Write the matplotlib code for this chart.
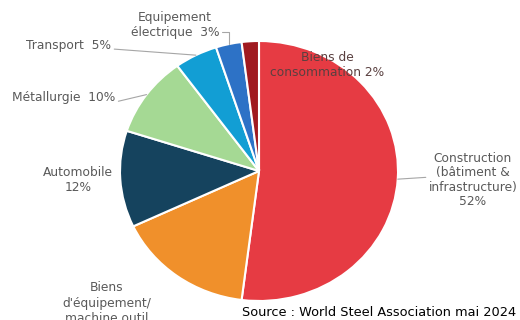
import numpy as np
import matplotlib
matplotlib.use("Agg")
import matplotlib.pyplot as plt

categories = ["Construction\n(bâtiment &\ninfrastructure)\n52%",
              "Biens\nd'équipement/\nmachine outil",
              "Automobile\n12%",
              "Métallurgie  10%",
              "Transport  5%",
              "Equipement\nélectrique  3%",
              "Biens de\nconsommation 2%"]
values = [52, 16, 12, 10, 5, 3, 2]
colors = ["#E63B43", "#F0902B", "#15435E", "#A5D994", "#129ED4", "#2D72C6", "#A01A20"]
source = "Source : World Steel Association mai 2024"

W, H = 520, 320
CX, CY, RX, RY = 259, 171, 139, 130

def px(x, y):
    return ((x - CX) / RX, (CY - y) / RY)

fig = plt.figure(figsize=(W / 100, H / 100), dpi=100)
ax = fig.add_axes([0, 0, 1, 1])
wedges, _ = ax.pie(values, colors=colors, startangle=90, counterclock=False,
                   radius=1.0, wedgeprops=dict(edgecolor="white", linewidth=1.5))
ax.set_aspect("auto")
ax.set_xlim(px(0, 0)[0], px(W, 0)[0])
ax.set_ylim(px(0, H)[1], px(0, 0)[1])
ax.axis("off")

gray = "#595959"
fs = 8.8
lc = "#a6a6a6"

def edge_point(i, r=1.0):
    w = wedges[i]
    a = np.deg2rad((w.theta1 + w.theta2) / 2)
    return (r * np.cos(a), r * np.sin(a))

# Construction
ax.annotate(categories[0], xy=edge_point(0), xytext=px(473, 180), ha="center", va="center",
            fontsize=fs, color=gray, linespacing=1.15,
            arrowprops=dict(arrowstyle="-", color=lc, lw=0.8, shrinkA=0, shrinkB=0,
                            relpos=(0.0, 0.55)))
# Biens d'équipement
ax.text(*px(107, 303), categories[1], ha="center", va="center", fontsize=fs, color=gray,
        linespacing=1.25)
# Automobile
ax.text(*px(78, 180), categories[2], ha="center", va="center", fontsize=fs, color=gray,
        linespacing=1.2)
# Métallurgie
ax.annotate(categories[3], xy=edge_point(3, 1.0), xytext=px(64, 98), ha="center", va="center",
            fontsize=fs, color=gray,
            arrowprops=dict(arrowstyle="-", color=lc, lw=0.8, shrinkA=0, shrinkB=0,
                            relpos=(1.0, 0.2)))
# Transport
ax.annotate(categories[4], xy=edge_point(4, 1.0), xytext=px(69, 45), ha="center", va="center",
            fontsize=fs, color=gray,
            arrowprops=dict(arrowstyle="-", color=lc, lw=0.8, shrinkA=0, shrinkB=0,
                            relpos=(1.0, 0.2)))
# Equipement électrique
ax.annotate(categories[5], xy=edge_point(5, 1.0), xytext=px(175, 25), ha="center", va="center",
            fontsize=fs, color=gray, linespacing=1.15,
            arrowprops=dict(arrowstyle="-", color=lc, lw=0.8, shrinkA=0, shrinkB=0,
                            relpos=(1.0, 0.25),
                            connectionstyle="angle,angleA=0,angleB=90,rad=0"))
# Biens de consommation (inside)
ax.text(*px(327, 65), categories[6], ha="center", va="center", fontsize=fs, color="#5a4040",
        linespacing=1.15)

ax.text(*px(379, 313), source, ha="center", va="center", fontsize=9.3, color="black")

fig.savefig("out.png", dpi=100)
